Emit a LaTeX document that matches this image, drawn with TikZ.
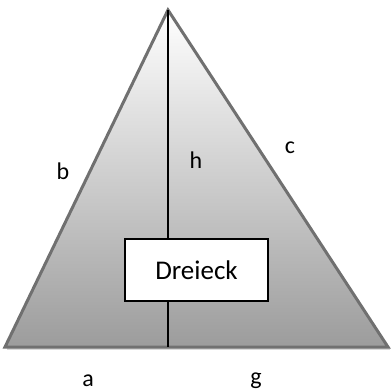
\documentclass[tikz,border=0pt]{standalone}
\usepackage{fontspec}
\setmainfont{Carlito}
\begin{document}
\begin{tikzpicture}[x=1pt,y=-1pt,
  edge/.style={draw={rgb,255:red,112;green,112;blue,112},line width=3pt,line join=miter},
  lbl/.style={font=\fontsize{24}{28}\selectfont,inner sep=0pt},
  boxstyle/.style={draw=black,line width=2pt,fill=white,minimum width=143pt,minimum height=62pt,inner sep=0pt,font=\fontsize{27}{31}\selectfont}]
\useasboundingbox (0,0) rectangle (391,392);
\coordinate (top) at (168,10);
\coordinate (bl) at (5,347);
\coordinate (br) at (388,347);
\coordinate (foot) at (168,347);
% shadow
\fill[black!15] (bl) ++(2,3) -- ([shift={(2,3)}]br) -- ([shift={(2,0)}]br) -- ([shift={(2,0)}]bl) -- cycle;
\shade[top color=white,bottom color={rgb,255:red,156;green,156;blue,156}] (top) -- (br) -- (bl) -- cycle;
\draw[edge] (top) -- (br) -- (bl) -- cycle;
\draw[black,line width=2pt] (top) -- (foot);
\node[boxstyle] (box) at (196.5,270) {Dreieck};
\node[lbl] (b) at (63,171) {b};
\node[lbl] (h) at (196,160) {h};
\node[lbl] (c) at (290,148) {c};
\node[lbl] (a) at (88,381) {a};
\node[lbl] (g) at (256,381) {g};
\end{tikzpicture}
\end{document}
